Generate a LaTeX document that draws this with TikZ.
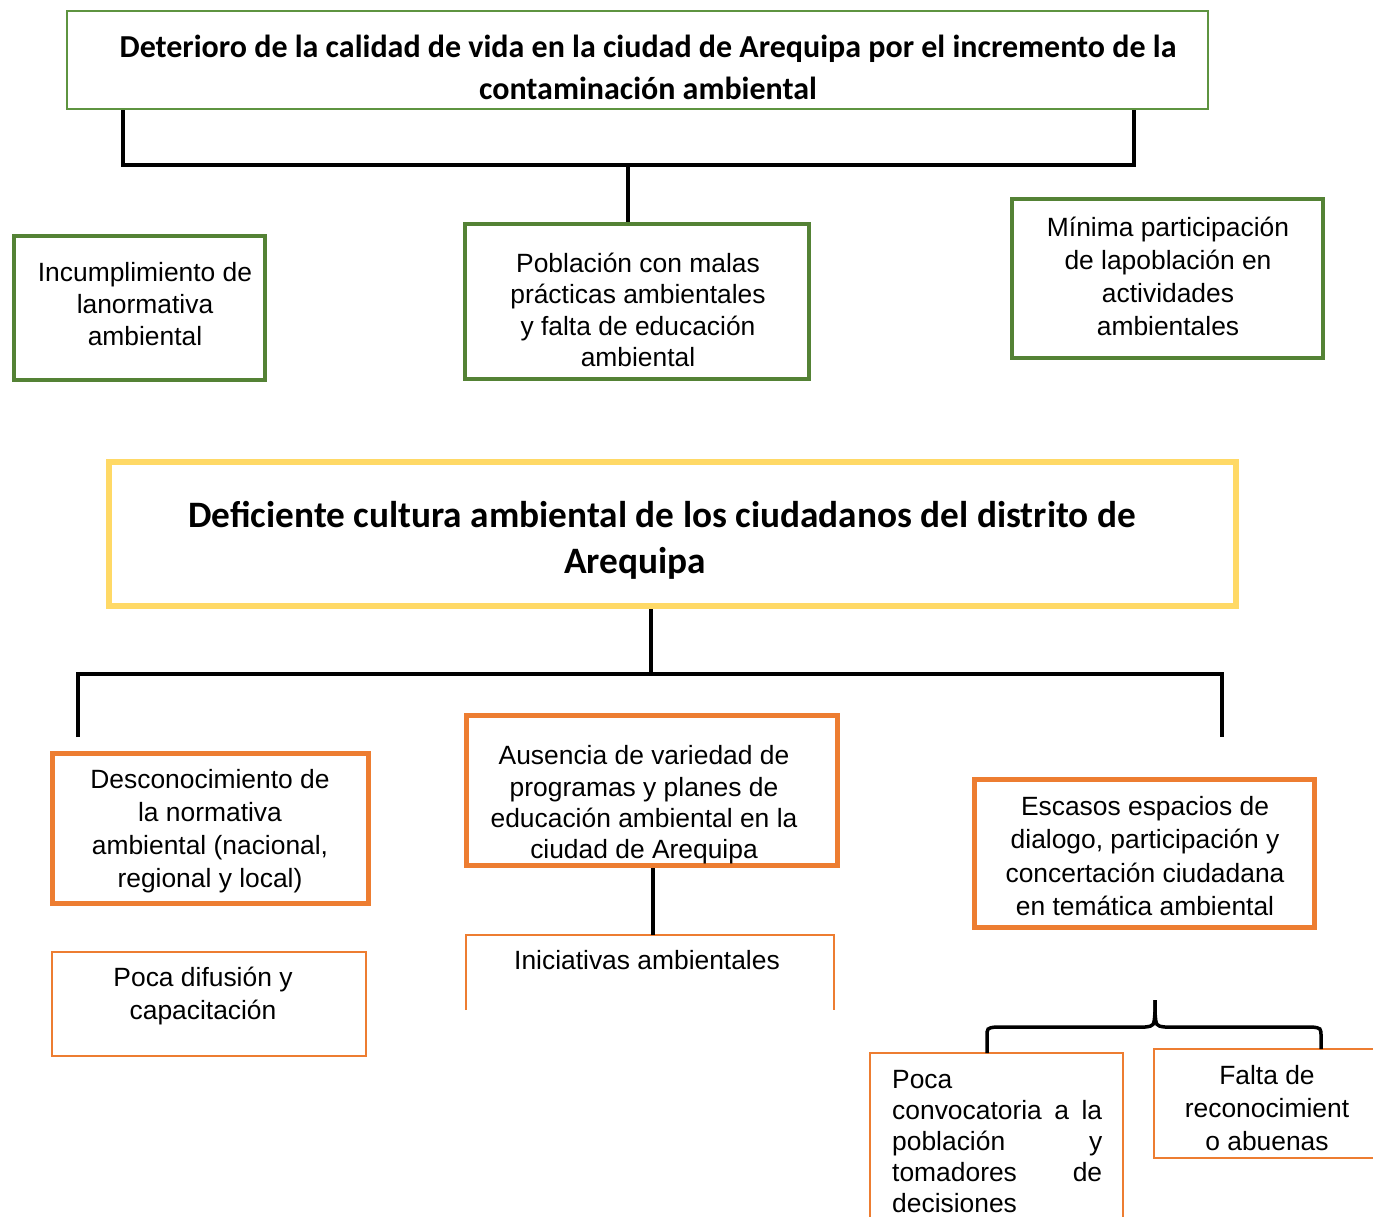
\documentclass[tikz,border=0pt]{standalone}
\usepackage{fontspec}
\setmainfont{Liberation Sans}
\newfontfamily\calb{Carlito}[BoldFont=* Bold]
\definecolor{gbox}{HTML}{548235}
\definecolor{gthin}{HTML}{5E9440}
\definecolor{obox}{HTML}{ED7D31}
\definecolor{ybox}{HTML}{FFD966}
\tikzset{
  conn/.style={line width=3.5pt, black},
  greenbox/.style={draw=gbox, line width=4pt, rectangle, inner sep=0pt},
  orangebox/.style={draw=obox, line width=5pt, rectangle, inner sep=0pt},
  thinbox/.style={draw=obox, line width=2pt, rectangle, inner sep=0pt},
  txt/.style={align=center, inner sep=0pt, font=\fontsize{26.4}{32}\selectfont},
  hdr/.style={align=center, inner sep=0pt, font=\calb\bfseries\fontsize{32}{42}\selectfont},
}
\begin{document}
\begin{tikzpicture}[x=1pt,y=-1pt]
\useasboundingbox (0,0) rectangle (1373,1216);
\clip (0,0) rectangle (1373,1216);
% top box
\node[draw=gthin, line width=2pt, rectangle, inner sep=0pt, minimum width=1141pt, minimum height=98pt] (top) at (637.5,60) {};
\node[hdr] (toptxt) at (648,67) {Deterioro de la calidad de vida en la ciudad de Arequipa por el incremento de la\\contaminación ambiental};
% first row
\node[greenbox, minimum width=251pt, minimum height=144pt] (b1) at (139.5,308) {};
\node[txt] (b1t) at (145,304) {Incumplimiento de\\lanormativa\\ambiental};
\node[greenbox, minimum width=344pt, minimum height=155pt] (b2) at (637,301.5) {};
\node[txt, font=\fontsize{26.4}{31.3}\selectfont] (b2t) at (638,310) {Población con malas\\prácticas ambientales\\y falta de educación\\ambiental};
\node[greenbox, minimum width=311pt, minimum height=159pt] (b3) at (1167.5,278.5) {};
\node[txt, font=\fontsize{26.4}{33}\selectfont] (b3t) at (1168,276.5) {Mínima participación\\de lapoblación en\\actividades\\ambientales};
% top connector
\coordinate (k1) at (123,165);
\coordinate (k2) at (1134,165);
\coordinate (k0) at (628,165);
\draw[conn] (k1 |- top.south) -- (k1) -- (k2) -- (k2 |- top.south);
\draw[conn] (k0) -- (k0 |- b2.north);
% yellow box
\node[draw=ybox, line width=6pt, rectangle, inner sep=0pt, minimum width=1127pt, minimum height=144pt] (yel) at (672.5,534) {};
\node[hdr, font=\calb\bfseries\fontsize{37.3}{46}\selectfont] (yelt) at (662,540) {Deficiente cultura ambiental de los ciudadanos del distrito de\\\hspace*{-54pt}Arequipa};
% lower connector
\coordinate (m0) at (651,674);
\coordinate (l1) at (78,737);
\coordinate (r1) at (1222,737);
\draw[conn] (yel.south -| m0) -- (m0);
\draw[conn] (l1) |- (m0) -| (r1);
% orange boxes
\node[orangebox, minimum width=316pt, minimum height=150pt] (o1) at (210.5,828.5) {};
\node[txt, font=\fontsize{26.4}{33}\selectfont] (o1t) at (210,831) {Desconocimiento de\\la normativa\\ambiental (nacional,\\regional y local)};
\node[orangebox, minimum width=371pt, minimum height=150pt] (o2) at (652,790.5) {};
\node[txt, font=\fontsize{26.4}{31.3}\selectfont] (o2t) at (644,805) {Ausencia de variedad de\\programas y planes de\\educación ambiental en la\\ciudad de Arequipa};
\node[orangebox, minimum width=340pt, minimum height=148pt] (o3) at (1144.5,853.5) {};
\node[txt, font=\fontsize{26.4}{33.3}\selectfont] (o3t) at (1145,856) {Escasos espacios de\\dialogo, participación y\\concertación ciudadana\\en temática ambiental};
% thin boxes
\node[thinbox, minimum width=314pt, minimum height=104pt] (p1) at (209,1004) {};
\node[txt, font=\fontsize{26.4}{33}\selectfont] (p1t) at (203,996) {Poca difusión y\\capacitación};
\coordinate (p2a) at (466,1010);
\coordinate (p2b) at (834,1010);
\coordinate (p2top) at (653,935);
\draw[obox, line width=2pt] (p2a) |- (p2top) -| (p2b);
\node[txt] (p2t) at (647,960) {Iniciativas ambientales};
\draw[conn] (o2.south -| p2top) -- (p2top);
\node[thinbox, minimum width=253pt, minimum height=188pt] (p3) at (996.5,1147) {};
\node[inner sep=0pt, align=left, font=\fontsize{26.4}{31}\selectfont, anchor=north west] (p3t) at (892,1070) {%
Poca\\
\makebox[210pt][s]{convocatoria a la}\\
\makebox[210pt][s]{población\hfill y}\\
\makebox[210pt][s]{tomadores\hfill de}\\
decisiones};
\node[thinbox, minimum width=226pt, minimum height=109pt] (p4) at (1267,1103.5) {};
\node[txt, font=\fontsize{26.4}{33}\selectfont] (p4t) at (1267,1108) {Falta de\\reconocimient\\o abuenas};
% brace
\coordinate (bl) at (987,1053);
\coordinate (br) at (1321,1049);
\coordinate (btip) at (1155,1000);
\draw[line width=3.5pt, black] (bl) -- (987,1037) .. controls (987,1028) .. (996,1027) -- (1145,1027) .. controls (1154,1026) .. (1155,1012) -- (btip);
\draw[line width=3.5pt, black] (btip) -- (1155,1012) .. controls (1156,1026) .. (1165,1027) -- (1312,1027) .. controls (1321,1028) .. (1321,1037) -- (br);
\end{tikzpicture}
\end{document}
